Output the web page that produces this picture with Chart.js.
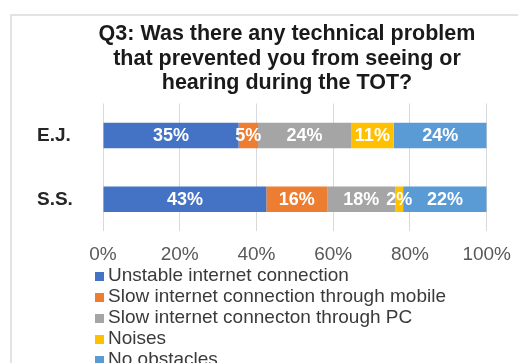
<!DOCTYPE html>
<html>
<head>
<meta charset="utf-8">
<script src="https://cdn.jsdelivr.net/npm/chart.js@4/dist/chart.umd.min.js"></script>
<style>
    html, body { margin: 0; padding: 0; background: #fff; overflow: hidden; }
    body { width: 518px; height: 363px; position: relative; font-family: 'Liberation Sans', Arial, sans-serif; }
    .frame { position: absolute; left: 10px; top: 14px; width: 600px; height: 400px; border: 2px solid #e3e3e3; box-sizing: border-box; }
    #chart { position: absolute; left: 0; top: 0; }
    #legend { position: absolute; left: 95px; top: 264px; margin: 0; padding: 0; list-style: none; }
    #legend li { height: 21px; line-height: 21px; font-size: 19px; color: #3a3a3a; white-space: nowrap; }
    #legend span { display: inline-block; width: 9px; height: 9px; margin-right: 4px; vertical-align: 0px; }
</style>
</head>
<body>
<div class="frame"></div>
<canvas id="chart" width="523" height="278"></canvas>
<ul id="legend"></ul>
<script>
    // respondents and answer shares (%)
    const groups = ['E.J.', 'S.S.'];
    const answers = [
        'Unstable internet connection',
        'Slow internet connection through mobile',
        'Slow internet connecton through PC',
        'Noises',
        'No obstacles'
    ];
    const unstable = [35, 43];
    const slowMobile = [5, 16];
    const slowPC = [24, 18];
    const noises = [11, 2];
    const noObstacles = [24, 22];
    const xTicks = [0, 20, 40, 60, 80, 100];

    const colors = ['#4472C4', '#ED7D31', '#A5A5A5', '#FFC000', '#5B9BD5'];
    const series = [unstable, slowMobile, slowPC, noises, noObstacles];

    // 100% stacked: each bar is scaled by its own total
    const totals = groups.map((g, i) => series.reduce((s, arr) => s + arr[i], 0));

    const datasets = series.map((arr, k) => ({
        label: answers[k],
        raw: arr,
        data: arr.map((v, i) => v / totals[i] * 100),
        backgroundColor: colors[k],
        barPercentage: 0.4,
        categoryPercentage: 1
    }));

    // white value labels in the middle of each segment
    const segmentLabels = {
        id: 'segmentLabels',
        afterDatasetsDraw(chart) {
            const ctx = chart.ctx;
            ctx.save();
            ctx.fillStyle = '#ffffff';
            ctx.font = "bold 18px 'Liberation Sans', Arial, sans-serif";
            ctx.textAlign = 'center';
            ctx.textBaseline = 'middle';
            chart.data.datasets.forEach((ds, k) => {
                chart.getDatasetMeta(k).data.forEach((bar, i) => {
                    ctx.fillText(ds.raw[i] + '%', (bar.x + bar.base) / 2, bar.y + 1);
                });
            });
            ctx.restore();
        }
    };

    Chart.defaults.font.family = "'Liberation Sans', Arial, sans-serif";

    const chart = new Chart(document.getElementById('chart'), {
        type: 'bar',
        data: { labels: groups, datasets: datasets },
        options: {
            indexAxis: 'y',
            responsive: false,
            animation: false,
            layout: { padding: { left: 51, right: 0, top: 0, bottom: 0 } },
            plugins: {
                legend: { display: false },
                tooltip: { enabled: false },
                title: {
                    display: true,
                    text: [
                        'Q3: Was there any technical problem',
                        'that prevented you from seeing or',
                        'hearing during the TOT?'
                    ],
                    color: '#1a1a1a',
                    font: { size: 21.5, weight: 'bold', lineHeight: 1.14 },
                    padding: { top: 22, bottom: 8 }
                }
            },
            scales: {
                x: {
                    stacked: true,
                    min: 0,
                    max: 100,
                    afterBuildTicks(scale) {
                        scale.ticks = xTicks.map(v => ({ value: v }));
                    },
                    ticks: {
                        callback: v => v + '%',
                        color: '#595959',
                        font: { size: 19 },
                        padding: 12,
                        maxRotation: 0
                    },
                    grid: { color: '#d9d9d9', drawTicks: false },
                    border: { display: false }
                },
                y: {
                    stacked: true,
                    afterFit(scale) { scale.width = 52; },
                    // mirrored so the names can sit left of the narrow axis box
                    ticks: {
                        mirror: true,
                        color: '#262626',
                        font: { size: 19, weight: 'bold' },
                        padding: -66
                    },
                    grid: { display: false, drawTicks: false },
                    border: { display: false }
                }
            }
        },
        plugins: [segmentLabels]
    });

    // legend listed under the chart, one entry per row
    const legendEl = document.getElementById('legend');
    chart.data.datasets.forEach(ds => {
        const li = document.createElement('li');
        const box = document.createElement('span');
        box.style.background = ds.backgroundColor;
        li.appendChild(box);
        li.appendChild(document.createTextNode(ds.label));
        legendEl.appendChild(li);
    });
</script>
</body>
</html>
